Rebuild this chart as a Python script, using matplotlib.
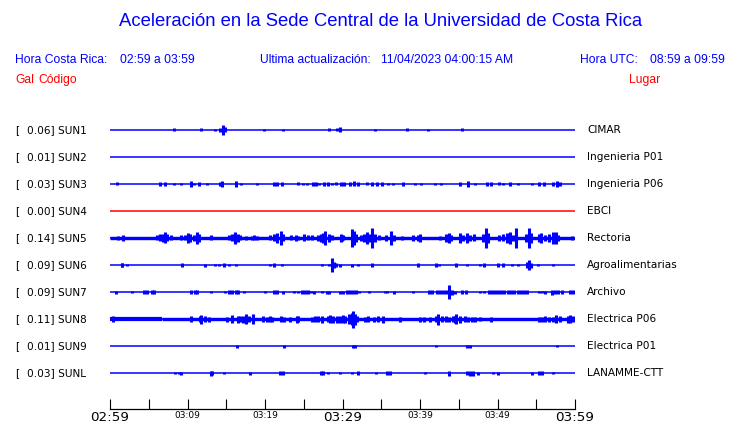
import matplotlib
matplotlib.use("Agg")
import matplotlib.pyplot as plt

W, H = 740, 423
BLUE = "#0000ff"
RED = "#ff0000"

# station table
codes = ["SUN1", "SUN2", "SUN3", "SUN4", "SUN5", "SUN6", "SUN7", "SUN8", "SUN9", "SUNL"]
gal = [0.06, 0.01, 0.03, 0.00, 0.14, 0.09, 0.09, 0.11, 0.01, 0.03]
places = ["CIMAR", "Ingenieria P01", "Ingenieria P06", "EBCI", "Rectoria",
          "Agroalimentarias", "Archivo", "Electrica P06", "Electrica P01", "LANAMME-CTT"]
trace_colors = [BLUE, BLUE, BLUE, RED, BLUE, BLUE, BLUE, BLUE, BLUE, BLUE]

# time axis (minutes after 02:59)
tick_min = [0, 5, 10, 15, 20, 25, 30, 35, 40, 45, 50, 55, 60]
tick_lab = ["02:59", "", "03:09", "", "03:19", "", "03:29", "", "03:39", "", "03:49", "", "03:59"]
big_ticks = ["02:59", "03:29", "03:59"]

# noise band half-height (px) as (start min, end min, half)
base_sun5 = [(0, 60, 1.7)]
base_sun8 = [(0, 6.7, 2.1), (6.7, 60, 1.7)]

# bursts: (minute, half amplitude in px)
ev_sun1 = [(8.3, 1.5), (11.7, 1.5), (13.5, 1.2), (14.2, 2), (14.6, 4.7), (14.9, 2.5),
           (19.9, 1), (22.3, 1), (28.3, 1.5), (29.3, 1.5), (29.7, 2.5), (34.2, 1),
           (38.3, 1.5), (41.0, 1), (45.4, 1.5)]
ev_sun2 = []
ev_sun3 = [(0.95, 1.5), (6.45, 1.7), (7.1, 1.7), (8.3, 1.3), (9.2, 1.3), (10.4, 2.7),
           (10.8, 1.3), (11.5, 1.7), (12.5, 1), (14.2, 1.7), (14.5, 3), (16.3, 2.7),
           (16.9, 1), (19.0, 1.3), (21.2, 1.7), (21.5, 1.7), (22.2, 2), (24.2, 1.5),
           (24.9, 1.3), (25.4, 1), (26.2, 1.7), (26.6, 1.7), (27.0, 1.3), (27.6, 1.7),
           (28.1, 1.7), (28.7, 1.3), (29.2, 1.5), (29.8, 1.7), (30.2, 1.7), (31.0, 2),
           (31.5, 2.5), (32.0, 2), (33.2, 1.5), (33.8, 1.7), (34.5, 1.7), (35.1, 1.7),
           (35.9, 1.3), (36.5, 1.3), (37.8, 1.7), (39.3, 1.3), (40.1, 1.3), (41.9, 1),
           (42.7, 1), (45.2, 1.7), (46.2, 2.7), (47.1, 1), (48.6, 1.7), (49.2, 1.7),
           (50.2, 1.5), (50.7, 1.3), (51.6, 1.7), (52.6, 1.3), (54.4, 1), (55.4, 1.7),
           (56.0, 1.7), (57.2, 2), (57.7, 2.7), (58.1, 1.7)]
ev_sun4 = []
ev_sun5 = [(1.0, 2), (1.7, 3), (6.0, 2.5), (6.45, 3.5), (6.9, 4), (7.1, 5.5), (7.4, 3.5),
           (7.9, 2.5), (9.2, 2.5), (9.7, 2.5), (10.0, 5), (10.3, 4), (10.9, 3), (11.2, 6),
           (11.5, 4), (13.0, 2.5), (15.3, 2.5), (15.7, 3.5), (16.1, 6), (16.5, 4),
           (16.8, 2.5), (17.5, 2), (18.3, 2), (18.6, 2.5), (19.0, 2), (20.7, 2.5),
           (21.2, 3.5), (21.6, 4.5), (22.0, 7), (22.3, 3.5), (23.4, 2.5), (24.0, 3),
           (24.3, 2), (25.0, 3.5), (25.6, 2.5), (26.0, 2.5), (26.8, 3), (27.2, 4),
           (27.5, 5), (27.8, 7), (28.2, 4), (28.6, 2.5), (29.8, 4), (30.1, 2.5),
           (29.9, 3), (31.2, 9), (31.5, 7), (31.8, 4), (32.4, 3), (32.8, 4), (33.1, 6),
           (33.5, 4), (33.8, 10), (34.2, 4), (34.7, 2.5), (35.6, 3), (36.3, 7), (36.6, 3),
           (37.7, 2), (39.1, 3), (39.7, 3), (40.0, 4), (42.6, 2), (43.4, 4), (43.7, 5),
           (44.0, 3), (45.2, 4.5), (45.6, 3), (46.0, 5), (46.5, 3), (47.0, 3.5),
           (48.1, 4), (48.5, 10), (48.8, 5), (50.2, 3), (50.7, 3.5), (51.2, 5), (51.6, 6),
           (52.0, 3), (52.4, 10), (53.7, 4), (54.0, 10), (54.3, 5), (55.4, 4), (55.6, 5),
           (56.1, 3), (56.7, 4), (57.2, 6), (57.5, 6), (57.8, 3), (59.6, 2)]
ev_sun6 = [(1.5, 1.7), (1.6, 1.7), (2.2, 1.3), (9.3, 1.7), (12.3, 1.5), (13.6, 1.3),
           (14.1, 1.3), (14.7, 1.7), (15.4, 1.3), (16.3, 1.3), (20.6, 1), (21.2, 1.7),
           (22.2, 1.3), (27.4, 1.3), (28.3, 1.3), (28.6, 7), (28.9, 3), (29.1, 2),
           (29.7, 1.5), (31.2, 1.5), (32.0, 1.3), (33.8, 1.7), (39.8, 2), (42.1, 2),
           (42.5, 1), (44.7, 1.7), (46.0, 1.3), (47.8, 1.3), (48.3, 1.7), (50.1, 1.7),
           (50.7, 1.7), (51.9, 1), (52.6, 1), (53.8, 3), (54.0, 5), (54.3, 2.5),
           (55.2, 1.3), (57.2, 1.3)]
ev_sun7 = [(0.8, 1.5), (2.9, 1), (4.4, 1.7), (4.8, 1.7), (5.4, 1.7), (5.7, 1.7),
           (10.5, 1.7), (11.0, 1.7), (11.2, 1.7), (13.0, 1), (14.9, 1), (15.4, 1.7),
           (15.8, 1.7), (16.2, 1.7), (16.5, 1.7), (17.3, 1), (20.0, 1), (21.1, 1.7),
           (21.6, 1.7), (22.3, 1.5), (23.7, 1), (24.3, 1), (24.8, 1.7), (25.2, 1.7),
           (25.6, 1.7), (25.9, 1.3), (26.3, 1.5), (27.3, 1), (28.0, 1.5), (28.3, 1.5),
           (29.7, 1.5), (30.1, 1.5), (30.6, 1.7), (31.0, 1.7), (31.4, 1.7), (31.8, 1.7),
           (32.1, 1), (33.4, 1), (35.5, 1), (35.7, 1), (36.6, 1.5), (39.1, 1),
           (41.1, 1.7), (41.5, 1.7), (42.2, 1.7), (42.6, 1.7), (43.0, 2), (43.4, 2),
           (43.8, 7), (44.1, 2.5), (44.5, 1.5), (45.4, 1.7), (45.9, 1.7), (47.7, 1),
           (48.2, 1), (48.9, 1.7), (49.3, 1.7), (49.7, 1.7), (50.1, 1.7), (50.5, 1.7),
           (50.9, 1.7), (51.3, 1.7), (51.7, 1.7), (52.1, 1.7), (52.6, 1.7), (53.0, 1.7),
           (53.4, 1.7), (53.8, 1.7), (55.3, 1), (55.7, 1), (56.1, 1.5), (57.0, 2.5),
           (57.4, 1.7), (57.8, 1.7), (58.3, 1.7), (59.4, 1.7), (59.8, 1.7)]
ev_sun8 = [(0.4, 3), (10.5, 3), (11.6, 3), (11.8, 4.5), (12.3, 3), (12.8, 2.5),
           (15.1, 2.5), (15.7, 4), (16.5, 3.5), (16.8, 3), (17.1, 3.5), (17.6, 5),
           (17.9, 3), (18.5, 5), (19.8, 3), (20.2, 2.5), (20.6, 3), (20.9, 2.5),
           (22.1, 3), (22.4, 2.5), (23.2, 2.5), (24.1, 3.5), (24.3, 3), (26.0, 2.5),
           (26.5, 3), (26.9, 3), (27.4, 3.5), (28.1, 3), (28.4, 4), (28.8, 3.5),
           (29.3, 3.5), (29.7, 3.5), (30.0, 4), (30.3, 3.5), (30.9, 5), (31.2, 6),
           (31.4, 8.5), (31.6, 5.5), (31.9, 3), (32.9, 2.5), (33.3, 3), (34.0, 2.5),
           (34.6, 3), (35.2, 3.5), (37.4, 2.5), (40.0, 2.5), (40.5, 2.5), (41.3, 2.5),
           (42.1, 3), (42.3, 5.5), (42.8, 3), (43.4, 3), (43.7, 2.5), (44.2, 3),
           (44.5, 3.5), (44.7, 5), (45.1, 3.5), (45.8, 3), (46.2, 2.5), (46.7, 2.5),
           (47.1, 2.5), (47.8, 2), (49.1, 2.5), (55.3, 2.5), (55.7, 2.5), (56.1, 3),
           (56.6, 2.5), (57.2, 2.5), (57.6, 4), (58.0, 3), (59.1, 3.5), (59.4, 4),
           (59.8, 3)]
ev_sun9 = [(16.4, 1.5), (22.4, 1.5), (31.3, 1.5), (31.6, 1.5), (42.1, 1.2),
           (46.0, 1.5), (46.4, 1.5), (57.7, 1.2)]
ev_sunl = [(8.4, 1), (8.9, 1), (9.2, 1.5), (13.0, 2.5), (13.2, 2), (14.7, 1), (18.0, 1.5),
           (21.9, 1.7), (22.3, 1.7), (27.2, 2), (27.5, 2), (28.1, 1.3), (29.7, 1.3),
           (31.2, 1.3), (32.0, 1.7), (34.3, 1), (35.7, 1.7), (36.1, 1.7), (40.6, 1),
           (43.7, 2.5), (46.0, 1.7), (46.5, 2.5), (46.9, 2.5), (47.5, 1.5), (49.4, 1.3),
           (50.0, 1.5), (54.4, 1.5), (55.3, 1.7), (55.7, 1.7), (57.2, 1.3)]

events = [ev_sun1, ev_sun2, ev_sun3, ev_sun4, ev_sun5, ev_sun6, ev_sun7, ev_sun8, ev_sun9, ev_sunl]
bases = [None, None, None, None, base_sun5, None, None, base_sun8, None, None]

SPACING = 27.0  # px between traces
PT = 72.0 / 100  # px -> points at dpi 100

fig = plt.figure(figsize=(W / 100, H / 100), dpi=100)
fig.patch.set_facecolor("white")


def ftext(x, y, s, **kw):
    kw.setdefault("va", "center")
    fig.text(x / W, 1 - y / H, s, **kw)


# traces
ax = fig.add_axes([110 / W, 1 - 386.5 / H, 465 / W, 270 / H])
ax.set_xlim(0, 60)
ax.set_ylim(len(codes) - 0.5, -0.5)
ax.axis("off")
for i, (ev, base, col) in enumerate(zip(events, bases, trace_colors)):
    ax.hlines(i, 0, 60, colors=col, lw=1.1)
    if base:
        for s, e, h in base:
            ax.hlines(i, s, e, colors=col, lw=2 * h * PT)
    if ev:
        t = [p[0] for p in ev]
        a = [p[1] / SPACING for p in ev]
        ax.vlines(t, [i - v for v in a], [i + v for v in a], colors=col, lw=2.2)

# time axis
tax = fig.add_axes([110 / W, 1 - 409 / H, 465 / W, 0.0001])
tax.set_xlim(0, 60)
tax.set_yticks([])
for s in ["top", "left", "right"]:
    tax.spines[s].set_visible(False)
tax.spines["bottom"].set_linewidth(0.9)
tax.set_xticks(tick_min)
tax.set_xticklabels(tick_lab)
tax.tick_params(axis="x", direction="in", length=10 * PT, width=0.8, pad=1.5)
for lab in tax.get_xticklabels():
    if lab.get_text() in big_ticks:
        lab.set_fontsize(9.7)
    else:
        lab.set_fontsize(6.5)

# header
ftext(381, 22, "Aceleración en la Sede Central de la Universidad de Costa Rica",
      ha="center", color=BLUE, fontsize=13.3, family="Liberation Sans")
hdr = dict(color=BLUE, fontsize=8.7, family="Liberation Sans")
ftext(15, 60, "Hora Costa Rica:", **hdr)
ftext(120, 60, "02:59 a 03:59", **hdr)
ftext(260, 60, "Ultima actualización:", **hdr)
ftext(381, 60, "11/04/2023 04:00:15 AM", **hdr)
ftext(580, 60, "Hora UTC:", **hdr)
ftext(725, 60, "08:59 a 09:59", ha="right", **hdr)
red = dict(color=RED, fontsize=8.7, family="Liberation Sans")
ftext(15, 80, "Gal", **red)
ftext(38, 80, "Código", **red)
ftext(629, 80, "Lugar", **red)

# station labels
for i, (c, g, p) in enumerate(zip(codes, gal, places)):
    y = 130 + i * SPACING
    ftext(15, y, "[", fontsize=7.6)
    ftext(27, y, f"{g:.2f}] {c}", fontsize=7.6)
    ftext(587, y, p, fontsize=7.6)

fig.savefig("out.png", dpi=100, facecolor="white")
